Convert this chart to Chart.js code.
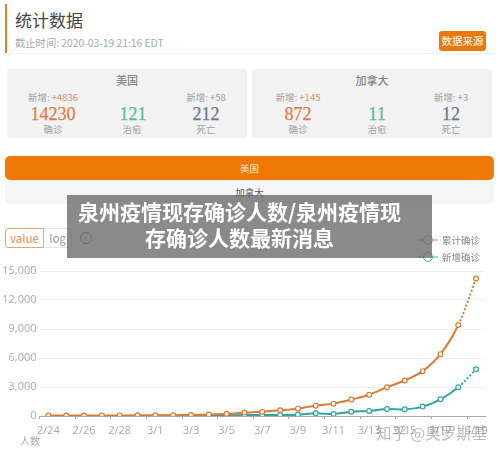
<!DOCTYPE html>
<html>
<head>
<meta charset="utf-8">
<script src="https://cdn.jsdelivr.net/npm/chart.js@4/dist/chart.umd.min.js"></script>
<style>
  html, body { margin: 0; padding: 0; background: #fff; }
  body { width: 500px; height: 454px; position: relative; overflow: hidden; font-family: "Noto Sans CJK SC", sans-serif; }
  .abs { position: absolute; white-space: nowrap; }
  .card { position: absolute; top: 69px; height: 69px; width: 240px; background: #f2f2f2; border-radius: 3px; }
  .num { position: absolute; top: 35px; font-family: "Liberation Serif", serif; font-size: 18px; line-height: 20px; -webkit-text-stroke: 0.25px currentColor; transform: translateX(-50%); }
  .small { position: absolute; font-size: 9.5px; line-height: 12px; color: #a0a0a0; transform: translateX(-50%); white-space: nowrap; }
  #wrap { position: absolute; left: 0; top: 260px; width: 500px; height: 194px; }
  #chartCases { display: block; }
</style>
</head>
<body>
<div class="abs" style="left:5px;top:4px;width:2px;height:49px;background:#e07b2d"></div>
<div class="abs" style="left:15px;top:7px;font-size:17px;line-height:26px;color:#444">统计数据</div>
<div class="abs" style="left:15px;top:36px;font-size:10.3px;line-height:14px;color:#aaa">截止时间: 2020-03-19 21:16 EDT</div>
<div class="abs" style="left:439px;top:31px;width:47px;height:20px;background:#e8790f;border-radius:3px;color:#fff;font-size:10.5px;line-height:20px;text-align:center">数据来源</div>
<div class="abs" style="left:7px;top:53px;width:488px;height:1px;background:#eee"></div>

<div class="card" style="left:7px">
  <div class="small" style="left:120px;top:4px;font-size:11px;line-height:15px;color:#888;font-weight:500">美国</div>
  <div class="small" style="left:46px;top:22px">新增: <span style="color:#e0906a">+4836</span></div>
  <div class="small" style="left:199px;top:22px">新增: +58</div>
  <div class="num" style="left:46px;color:#dd7c4a">14230</div>
  <div class="num" style="left:126px;color:#5bb8a4">121</div>
  <div class="num" style="left:199px;color:#6b7793">212</div>
  <div class="small" style="left:46px;top:54px">确诊</div>
  <div class="small" style="left:125px;top:54px">治愈</div>
  <div class="small" style="left:199px;top:54px">死亡</div>
</div>
<div class="card" style="left:252px">
  <div class="small" style="left:120px;top:4px;font-size:11px;line-height:15px;color:#888;font-weight:500">加拿大</div>
  <div class="small" style="left:46px;top:22px">新增: <span style="color:#e0906a">+145</span></div>
  <div class="small" style="left:199px;top:22px">新增: +3</div>
  <div class="num" style="left:46px;color:#dd7c4a">872</div>
  <div class="num" style="left:125px;color:#5bb8a4">11</div>
  <div class="num" style="left:199px;color:#6b7793">12</div>
  <div class="small" style="left:46px;top:54px">确诊</div>
  <div class="small" style="left:125px;top:54px">治愈</div>
  <div class="small" style="left:199px;top:54px">死亡</div>
</div>

<div class="abs" style="left:5px;top:156px;width:489px;height:24px;background:#ee7a05;border-radius:5px;color:#f6e3cf;font-size:9.5px;line-height:24px;text-align:center">美国</div>
<div class="abs" style="left:5px;top:180px;width:489px;height:24px;background:#f5f5f5;border-radius:5px;color:#555;font-size:9.5px;line-height:24px;text-align:center">加拿大</div>

<div class="abs" style="left:5px;top:228px;width:37px;height:18px;border:1px solid #dda878;border-radius:3px 0 0 3px;color:#d98f55;font-size:11.5px;line-height:18px;text-align:center">value</div>
<div class="abs" style="left:44px;top:228px;width:27px;height:18px;border:1px solid #e5e5e5;border-left:0;color:#999;font-size:11.5px;line-height:18px;text-align:center">log</div>
<div class="abs" style="left:79.5px;top:231.5px;width:10px;height:10px;border:1px solid #5b9aa5;border-radius:50%;color:#5b9aa5;font-size:8px;line-height:10px;text-align:center">i</div>

<div id="wrap"><canvas id="chartCases" width="500" height="194"></canvas></div>
<div class="abs" style="left:20px;top:434px;font-size:10px;line-height:14px;color:#aaa">人数</div>

<svg class="abs" style="left:416px;top:231px" width="24" height="34">
  <line x1="2" y1="9" x2="22" y2="9" stroke="#c98a5c" stroke-width="1"/>
  <circle cx="12" cy="9" r="4.5" fill="#fff" stroke="#c98a5c" stroke-width="1"/>
  <line x1="2" y1="26" x2="22" y2="26" stroke="#3aa9a9" stroke-width="1"/>
  <circle cx="12" cy="26" r="4.5" fill="#fff" stroke="#3aa9a9" stroke-width="1"/>
</svg>
<div class="abs" style="left:442px;top:233px;font-size:9.5px;line-height:14px;color:#888">累计确诊</div>
<div class="abs" style="left:442px;top:250px;font-size:9.5px;line-height:14px;color:#888">新增确诊</div>

<div class="abs" style="left:376px;top:420px;font-size:15.5px;line-height:24px;color:rgba(120,120,120,0.5)">知乎 @奥罗斯基</div>

<div class="abs" style="left:67px;top:195px;width:365px;height:63px;background:rgba(105,105,105,0.78);color:#fff;font-size:21px;line-height:26px;font-weight:700;text-align:center;padding:3px 20px 0 0;box-sizing:border-box">泉州疫情现存确诊人数/泉州疫情现<br>存确诊人数最新消息</div>

<script>
const dates = ['2/24', '2/25', '2/26', '2/27', '2/28', '2/29', '3/1', '3/2', '3/3', '3/4', '3/5', '3/6', '3/7',
  '3/8', '3/9', '3/10', '3/11', '3/12', '3/13', '3/14', '3/15', '3/16', '3/17', '3/18', '3/19'];
const totalCases = [50, 55, 55, 60, 60, 65, 75, 90, 105, 150, 220, 350, 450,
  590, 760, 1070, 1280, 1700, 2200, 2980, 3670, 4640, 6400, 9415, 14230];
const newCases = [10, 5, 5, 5, 5, 10, 15, 20, 25, 40, 70, 100, 100,
  100, 140, 280, 210, 450, 520, 730, 690, 970, 1730, 2980, 4836];
const yTicksMax = 15000;
const yTicksStep = 3000;

const orange = '#dd7b35';
const teal = '#2fa5a5';

// last segment is still an estimate, so it is dotted
const dashLast = (ctx) => (ctx.p1DataIndex === dates.length - 1 ? [2, 2] : undefined);

function lineSet(label, data, color) {
  return {
    label: label,
    data: data,
    borderColor: color,
    backgroundColor: '#fff',
    borderWidth: 2,
    tension: 0.35,
    pointRadius: 2.4,
    pointBorderWidth: 1.2,
    pointBorderColor: color,
    pointBackgroundColor: '#fff',
    segment: { borderDash: dashLast },
  };
}

const chartCases = new Chart(document.getElementById('chartCases'), {
  type: 'line',
  data: {
    labels: dates,
    datasets: [lineSet('累计确诊', totalCases, orange), lineSet('新增确诊', newCases, teal)],
  },
  options: {
    responsive: false,
    animation: false,
    layout: { padding: { top: 11, right: 15, bottom: 0, left: 0 } },
    plugins: { legend: { display: false }, tooltip: { enabled: false } },
    scales: {
      x: {
        offset: true,
        afterFit: (scale) => { scale.height = 38; },
        border: { color: '#aaa' },
        grid: {
          offset: true,
          drawOnChartArea: false,
          tickLength: 3,
          tickColor: (ctx) => (ctx.index % 2 === 0 ? '#aaa' : 'transparent'),
        },
        ticks: {
          autoSkip: false,
          maxRotation: 0,
          padding: 5,
          color: '#aaa',
          font: { family: 'Open Sans', size: 11 },
          callback: function (value, index) {
            return index % 2 === 0 ? this.getLabelForValue(value) : '';
          },
        },
      },
      y: {
        min: 0,
        max: yTicksMax,
        afterFit: (scale) => { scale.width = 39.5; },
        border: { display: false },
        grid: { color: '#eeeeee', drawTicks: false },
        ticks: {
          stepSize: yTicksStep,
          padding: 3,
          color: '#aaa',
          font: { family: 'Open Sans', size: 11 },
          callback: (value) => value.toLocaleString('en-US'),
        },
      },
    },
  },
});
</script>
</body>
</html>
